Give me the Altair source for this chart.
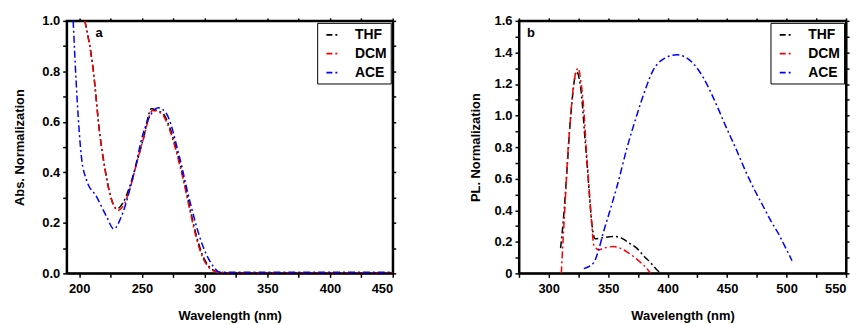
import altair as alt
import pandas as pd

solvents = ["THF", "DCM", "ACE"]
colors = ["black", "red", "blue"]

# Panel a: absorption
thf_a_x = [204.5, 211, 216.4, 220.4, 224.4, 230, 235, 240.3, 246, 251, 257.6, 262, 266.9, 272, 277.5, 283, 288, 293.4, 298.7, 303, 308, 315, 330, 360, 400, 450]
thf_a_y = [1.0, 0.816, 0.554, 0.42, 0.318, 0.255, 0.28, 0.344, 0.44, 0.53, 0.652, 0.645, 0.633, 0.58, 0.49, 0.38, 0.265, 0.15, 0.068, 0.03, 0.01, 0.003, 0.002, 0.002, 0.002, 0.002]
dcm_a_x = [204.5, 211, 216.4, 220.4, 224.4, 231, 236, 241, 246, 251, 258.5, 263, 267, 272, 277.5, 283, 288, 293.4, 298.7, 303, 308, 315, 330, 360, 400, 450]
dcm_a_y = [1.0, 0.81, 0.55, 0.415, 0.315, 0.25, 0.275, 0.345, 0.44, 0.53, 0.645, 0.64, 0.625, 0.57, 0.48, 0.37, 0.255, 0.14, 0.06, 0.025, 0.008, 0.002, 0.001, 0.001, 0.001, 0.001]
ace_a_x = [195.2, 198.4, 201.8, 205.8, 213.8, 221.7, 227.6, 233.7, 243, 251, 257.6, 262.9, 269.5, 280, 288, 298.7, 306.7, 312, 320, 350, 400, 450]
ace_a_y = [1.0, 0.685, 0.46, 0.37, 0.304, 0.226, 0.176, 0.226, 0.383, 0.554, 0.633, 0.656, 0.633, 0.46, 0.29, 0.107, 0.029, 0.005, 0.004, 0.004, 0.004, 0.004]

# Panel b: photoluminescence
thf_b_x = [310, 313, 315.6, 318, 320, 323.4, 326, 328, 330, 332.4, 334.5, 336.5, 339, 345, 351, 356, 362, 368, 374, 380, 386, 392, 394.5]
thf_b_y = [0.16, 0.40, 0.68, 0.95, 1.12, 1.28, 1.22, 1.10, 0.90, 0.68, 0.47, 0.30, 0.22, 0.225, 0.232, 0.233, 0.22, 0.19, 0.16, 0.11, 0.065, 0.015, 0.0]
dcm_b_x = [310.6, 312, 314, 316, 318.4, 321, 324.8, 327, 329.5, 331.5, 333.7, 336, 337.9, 342, 348, 354.6, 360, 366, 374, 380, 386]
dcm_b_y = [0.0, 0.2, 0.47, 0.75, 0.99, 1.20, 1.30, 1.22, 1.04, 0.80, 0.57, 0.33, 0.18, 0.15, 0.163, 0.17, 0.16, 0.135, 0.09, 0.05, 0.0]
ace_b_x = [329.5, 337.9, 342, 346, 352, 357.4, 366, 374, 381, 388, 397, 407.6, 415, 421.5, 430, 438, 449, 458, 466, 473, 480, 487, 494, 500, 504.6]
ace_b_y = [0.03, 0.068, 0.15, 0.26, 0.41, 0.55, 0.80, 1.00, 1.16, 1.29, 1.36, 1.385, 1.37, 1.33, 1.24, 1.12, 0.93, 0.78, 0.64, 0.53, 0.43, 0.33, 0.24, 0.15, 0.08]

xticks_a = [200, 250, 300, 350, 400, 450]
xminor_a = [225, 275, 325, 375, 425]
yticks_a = [0.0, 0.2, 0.4, 0.6, 0.8, 1.0]
yminor_a = [0.1, 0.3, 0.5, 0.7, 0.9]
xticks_b = [300, 350, 400, 450, 500, 550]
xminor_b = [275, 325, 375, 425, 475, 525]
yticks_b = [0.0, 0.2, 0.4, 0.6, 0.8, 1.0, 1.2, 1.4, 1.6]
yminor_b = [0.1, 0.3, 0.5, 0.7, 0.9, 1.1, 1.3, 1.5]

panel_labels = ["a", "b"]
x_title = "Wavelength (nm)"
y_titles = ["Abs. Normalization", "PL. Normalization"]

FONT = "Liberation Sans"


def make_df(xs, ys):
    rows = []
    for s, x, y in zip(solvents, xs, ys):
        for xi, yi in zip(x, y):
            rows.append({"wl": xi, "v": yi, "solvent": s})
    return pd.DataFrame(rows)


def panel(df, xdom, ydom, xt, xm, yt, ym, ytitle, label, label_x, ymajor_expr, ytpad, w, h):
    xs = alt.Scale(domain=xdom, nice=False, zero=False)
    ys = alt.Scale(domain=ydom, nice=False, zero=False)
    xmaj = "indexof([" + ",".join(str(v) for v in xt) + "], datum.value) >= 0"
    ymaj = "indexof([" + ",".join(str(round(v * 10)) for v in yt) + "], round(datum.value*10)) >= 0"
    base = alt.Chart(df)
    line = base.mark_line(strokeDash=[7, 3, 2, 3], strokeWidth=1.5, interpolate="monotone", clip=True).encode(
        x=alt.X("wl:Q", scale=xs, axis=alt.Axis(values=sorted(xt + xm), title=x_title, orient="bottom",
                                                labelExpr=xmaj + " ? format(datum.value, 'd') : ''",
                                                tickSize=4, labelPadding=5, titlePadding=14)),
        y=alt.Y("v:Q", scale=ys, axis=alt.Axis(values=sorted(yt + ym), title=ytitle, orient="left",
                                               labelExpr=ymaj + " ? (" + ymajor_expr + ") : ''",
                                               tickSize=4, labelPadding=3, titlePadding=ytpad)),
        color=alt.Color("solvent:N", scale=alt.Scale(domain=solvents, range=colors),
                        sort=solvents,
                        legend=alt.Legend(title=None, orient="top-right", offset=2, strokeColor="black",
                                          padding=4, labelFontSize=14, labelFont=FONT, labelFontWeight="bold",
                                          symbolType="stroke", symbolStrokeWidth=1.8, symbolDash=[6, 3, 2, 3],
                                          symbolSize=180, rowPadding=4, labelOffset=14, fillColor="white",
                                          symbolOffset=4)),
    )
    topright = base.mark_line(opacity=0).encode(
        x=alt.X("wl:Q", scale=xs, axis=alt.Axis(values=sorted(xt + xm), title=None, labels=False,
                                                orient="top", tickSize=3)),
        y=alt.Y("v:Q", scale=ys, axis=alt.Axis(values=sorted(yt + ym), title=None, labels=False,
                                               orient="right", tickSize=3)),
    )
    txt = alt.Chart(pd.DataFrame({"t": [label]})).mark_text(
        font=FONT, fontWeight="bold", fontSize=13, align="left", baseline="middle"
    ).encode(text="t:N", x=alt.value(label_x), y=alt.value(12))
    return alt.layer(line, topright, txt).resolve_axis(x="independent", y="independent").properties(
        width=w, height=h)


df_a = make_df([thf_a_x, dcm_a_x, ace_a_x], [thf_a_y, dcm_a_y, ace_a_y])
df_b = make_df([thf_b_x, dcm_b_x, ace_b_x], [thf_b_y, dcm_b_y, ace_b_y])

pa = panel(df_a, [190, 450], [0, 1.0], xticks_a, xminor_a, yticks_a, yminor_a, y_titles[0], panel_labels[0], 29,
           "format(datum.value, '.1f')", 15, 328, 254)
pb = panel(df_b, [275, 550], [0, 1.6], xticks_b, xminor_b, yticks_b, yminor_b, y_titles[1], panel_labels[1], 8,
           "datum.value == 0 ? '0' : format(datum.value, '.1f')", 12, 329, 254)

chart = alt.hconcat(pa, pb, spacing=70).resolve_scale(color="independent").properties(
    padding={"left": 4, "top": 5, "right": 0, "bottom": 0}
).configure_view(stroke="black", strokeWidth=2).configure_axis(
    labelFont=FONT, labelFontWeight="bold", labelFontSize=13, labelColor="black",
    titleFont=FONT, titleFontWeight="bold", titleFontSize=13, titleColor="black",
    domainColor="black", domainWidth=2, tickColor="black", tickWidth=1.5, grid=False
)

chart.save("out.html", embed_options={"renderer": "svg", "actions": False})
